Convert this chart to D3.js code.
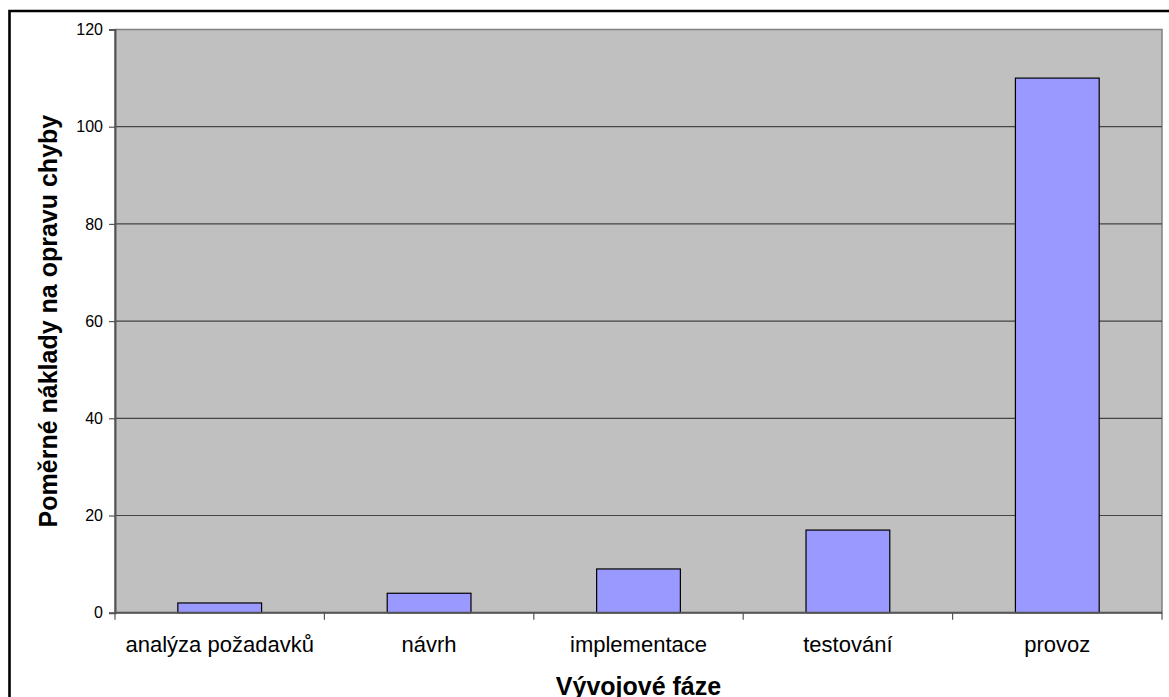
<!DOCTYPE html>
<html>
<head>
<meta charset="utf-8">
<script src="https://cdn.jsdelivr.net/npm/d3@7"></script>
<style>
  html, body { margin: 0; padding: 0; background: #fff; }
  svg { display: block; font-family: "Liberation Sans", Arial, sans-serif; }
</style>
</head>
<body>
<svg id="chart" width="1169" height="697"></svg>
<script>
const categories = ["analýza požadavků", "návrh", "implementace", "testování", "provoz"];
const values = [2, 4, 9, 17, 110];
const yTicks = [0, 20, 40, 60, 80, 100, 120];
const yTitle = "Poměrné náklady na opravu chyby";
const xTitle = "Vývojové fáze";

const svg = d3.select("#chart");
const plot = { left: 115, right: 1162, top: 29.5, bottom: 612.7 };

const x = d3.scaleBand()
  .domain(categories)
  .range([plot.left, plot.right])
  .paddingInner(0.6)
  .paddingOuter(0.3);

const y = d3.scaleLinear()
  .domain([0, 120])
  .range([plot.bottom, plot.top]);

// outer frame (left + top visible)
svg.append("path")
  .attr("d", `M9.5,${697 + 5} L9.5,11 L${1169 + 5},11`)
  .attr("fill", "none")
  .attr("stroke", "#000")
  .attr("stroke-width", 2.6);

// plot background
svg.append("rect")
  .attr("x", plot.left)
  .attr("y", plot.top)
  .attr("width", plot.right - plot.left)
  .attr("height", plot.bottom - plot.top)
  .attr("fill", "#C0C0C0")
  .attr("stroke", "#808080")
  .attr("stroke-width", 1.5);

// gridlines
svg.append("g")
  .selectAll("line")
  .data(yTicks.filter(t => t > 0 && t < 120))
  .join("line")
  .attr("x1", plot.left)
  .attr("x2", plot.right)
  .attr("y1", d => y(d))
  .attr("y2", d => y(d))
  .attr("stroke", "#444")
  .attr("stroke-width", 1.2);

// bars
svg.append("g")
  .selectAll("rect")
  .data(categories.map((c, i) => ({ c, v: values[i] })))
  .join("rect")
  .attr("x", d => x(d.c))
  .attr("y", d => y(d.v))
  .attr("width", x.bandwidth())
  .attr("height", d => y(0) - y(d.v))
  .attr("fill", "#9999FF")
  .attr("stroke", "#000")
  .attr("stroke-width", 1.2);

// y axis
const yAxis = svg.append("g")
  .attr("transform", `translate(${plot.left},0)`)
  .call(d3.axisLeft(y).tickValues(yTicks).tickSize(6).tickPadding(6).tickFormat(d3.format("d")));
yAxis.select(".domain").attr("stroke", "#555").attr("stroke-width", 2);
yAxis.selectAll(".tick line").attr("stroke", "#555").attr("stroke-width", 1.2);
yAxis.selectAll(".tick text")
  .attr("font-family", "Liberation Sans, Arial, sans-serif")
  .attr("font-size", 16)
  .attr("fill", "#000");

// x axis baseline
svg.append("line")
  .attr("x1", plot.left).attr("x2", plot.right)
  .attr("y1", y(0)).attr("y2", y(0))
  .attr("stroke", "#555").attr("stroke-width", 2);

// x ticks at category boundaries
const gap = (x.step() - x.bandwidth()) / 2;
const bounds = categories.map(c => x(c) - gap).concat([x(categories[categories.length - 1]) + x.bandwidth() + gap]);
svg.append("g")
  .selectAll("line")
  .data(bounds)
  .join("line")
  .attr("x1", d => d).attr("x2", d => d)
  .attr("y1", y(0)).attr("y2", y(0) + 7)
  .attr("stroke", "#555").attr("stroke-width", 1.2);

// x labels
svg.append("g")
  .selectAll("text")
  .data(categories)
  .join("text")
  .attr("x", d => x(d) + x.bandwidth() / 2)
  .attr("y", 652)
  .attr("text-anchor", "middle")
  .attr("font-size", 22)
  .attr("fill", "#000")
  .text(d => d);

// axis titles
svg.append("text")
  .attr("transform", `translate(57,${(plot.top + plot.bottom) / 2}) rotate(-90)`)
  .attr("text-anchor", "middle")
  .attr("font-size", 25)
  .attr("font-weight", "bold")
  .attr("fill", "#000")
  .text(yTitle);

svg.append("text")
  .attr("x", (plot.left + plot.right) / 2)
  .attr("y", 695)
  .attr("text-anchor", "middle")
  .attr("font-size", 25)
  .attr("font-weight", "bold")
  .attr("fill", "#000")
  .text(xTitle);
</script>
</body>
</html>
